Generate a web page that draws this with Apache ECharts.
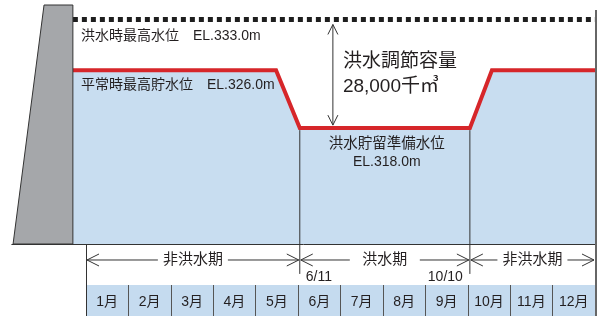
<!DOCTYPE html>
<html>
<head>
<meta charset="utf-8">
<script src="https://cdn.jsdelivr.net/npm/echarts@6/dist/echarts.min.js"></script>
<style>
  html, body { margin: 0; padding: 0; background: #fff; }
  #main { width: 603px; height: 316px; }
</style>
</head>
<body>
<div id="main"></div>
<script>
// x軸: 0 = 1月1日, 12 = 12月末（月単位）
var months = ['1月', '2月', '3月', '4月', '5月', '6月', '7月', '8月', '9月', '10月', '11月', '12月'];

// 水位 EL (m)
var floodMaxEL = 333;   // 洪水時最高水位
var normalMaxEL = 326;  // 平常時最高貯水位
var standbyEL = 318;    // 洪水貯留準備水位

// 年間の運用水位線
var waterX = [-0.31, 4.48, 5.04, 9.05, 9.57, 12];
var waterEL = [326, 326, 318, 318, 326, 326];

// ダム堤体の断面
var damX = [-1.72, -0.99, -0.31, -0.31];
var damEL = [302, 335, 335, 302];

// 期間
var periodNames = ['非洪水期', '洪水期', '非洪水期'];
var periodStart = [0, 5.04, 9.05];
var periodEnd = [5.04, 9.05, 12];
var switchDates = ['6/11', '10/10'];

var levelLabels = ['洪水時最高水位\u3000EL.333.0m', '平常時最高貯水位\u3000EL.326.0m'];
var standbyLabel = ['洪水貯留準備水位', 'EL.318.0m'];
var capacityLines = ['洪水調節容量', '28,000千㎥'];
var capacityX = 5.82;

var FONT = '"Liberation Sans", "Noto Sans CJK JP", sans-serif';
var TEXT = '#231f20';
var LINE = '#333';

function txt(x, y, s, size, align) {
  return {
    type: 'text', x: x, y: y,
    style: { text: s, fill: TEXT, fontSize: size, fontFamily: FONT, align: align || 'left', verticalAlign: 'middle' }
  };
}
function seg(x1, y1, x2, y2) {
  return { type: 'line', shape: { x1: x1, y1: y1, x2: x2, y2: y2 }, style: { stroke: LINE, lineWidth: 1 } };
}
function chevron(pts) {
  return { type: 'polyline', shape: { points: pts }, style: { stroke: LINE, lineWidth: 1, fill: null } };
}

var myChart = echarts.init(document.getElementById('main'));

var option = {
  animation: false,
  grid: [
    { left: 11.8, right: 8, top: 5, height: 239 },
    { left: 86, right: 8, top: 244, height: 41 },
    { left: 86, right: 8, top: 285, height: 31 }
  ],
  xAxis: [
    {
      gridIndex: 0, type: 'value', min: -1.75, max: 12,
      axisLine: { show: true, onZero: false, lineStyle: { color: LINE } },
      axisTick: { show: false }, axisLabel: { show: false }, splitLine: { show: false }
    },
    {
      gridIndex: 1, type: 'value', min: 0, max: 12, show: false
    },
    {
      gridIndex: 2, type: 'category', data: months, position: 'top',
      axisLine: { show: true, lineStyle: { color: LINE } },
      axisTick: { show: false },
      axisLabel: { inside: true, margin: 10, fontSize: 14, color: TEXT, fontFamily: FONT, interval: 0 },
      splitLine: { show: true, interval: 0, lineStyle: { color: '#555' } },
      splitArea: { show: true, interval: 0, areaStyle: { color: ['#c5dbef'] } }
    }
  ],
  yAxis: [
    { gridIndex: 0, type: 'value', min: 302, max: 335, show: false },
    {
      gridIndex: 1, type: 'value', min: 0, max: 1,
      axisLine: { show: true, lineStyle: { color: LINE } },
      axisTick: { show: false }, axisLabel: { show: false }, splitLine: { show: false }
    },
    {
      gridIndex: 2, type: 'value', min: 0, max: 1,
      axisLine: { show: true, lineStyle: { color: LINE } },
      axisTick: { show: false }, axisLabel: { show: false }, splitLine: { show: false }
    }
  ],
  series: [
    // 貯水池（水位線と水面）
    {
      type: 'line', xAxisIndex: 0, yAxisIndex: 0,
      data: waterX.map(function (x, i) { return [x, waterEL[i]]; }),
      symbol: 'none',
      lineStyle: { color: '#d6262a', width: 4, join: 'miter' },
      areaStyle: { color: '#c8ddf0', opacity: 1, origin: 'start' },
      z: 2
    },
    // 洪水時最高水位（点線）
    {
      type: 'line', xAxisIndex: 0, yAxisIndex: 0,
      data: [[waterX[0], floodMaxEL], [waterX[waterX.length - 1], floodMaxEL]],
      symbol: 'none',
      lineStyle: { color: '#1e1e1e', width: 5, type: [5, 4], cap: 'butt' },
      z: 3
    },
    // ダム堤体
    {
      type: 'custom', xAxisIndex: 0, yAxisIndex: 0,
      data: [[damX[0], damEL[0]]],
      renderItem: function (params, api) {
        var pts = damX.map(function (x, i) { return api.coord([x, damEL[i]]); });
        return { type: 'polygon', shape: { points: pts }, style: { fill: '#a5a7aa', stroke: LINE, lineWidth: 1 } };
      },
      z: 4
    },
    // 洪水期の区切り線（貯水池内）
    {
      type: 'custom', xAxisIndex: 0, yAxisIndex: 0,
      data: periodStart.slice(1).map(function (x) { return [x, standbyEL]; }),
      renderItem: function (params, api) {
        var a = api.coord([api.value(0), standbyEL]);
        var b = api.coord([api.value(0), 302]);
        return seg(a[0], a[1] + 2, b[0], b[1]);
      },
      z: 3
    },
    // 水位の注記
    {
      type: 'custom', xAxisIndex: 0, yAxisIndex: 0,
      data: [[waterX[0], floodMaxEL], [waterX[0], normalMaxEL]],
      renderItem: function (params, api) {
        var p = api.coord([api.value(0), api.value(1)]);
        var dy = params.dataIndex === 0 ? 17 : 15;
        return txt(p[0] + 8, p[1] + dy, levelLabels[params.dataIndex], 14);
      },
      z: 5
    },
    {
      type: 'custom', xAxisIndex: 0, yAxisIndex: 0,
      data: [[(periodStart[1] + periodEnd[1]) / 2, standbyEL]],
      renderItem: function (params, api) {
        var p = api.coord([api.value(0), api.value(1)]);
        return {
          type: 'group', children: [
            txt(p[0] + 2, p[1] + 16, standbyLabel[0], 14.5, 'center'),
            txt(p[0] + 2, p[1] + 34, standbyLabel[1], 14, 'center')
          ]
        };
      },
      z: 5
    },
    // 洪水調節容量
    {
      type: 'custom', xAxisIndex: 0, yAxisIndex: 0,
      data: [[capacityX, floodMaxEL]],
      renderItem: function (params, api) {
        var top = api.coord([capacityX, floodMaxEL]);
        var bot = api.coord([capacityX, standbyEL]);
        var x = top[0], y1 = top[1] + 5, y2 = bot[1] - 3;
        var mid = (top[1] + bot[1]) / 2;
        return {
          type: 'group', children: [
            seg(x, y1, x, y2),
            chevron([[x - 5, y1 + 10], [x, y1], [x + 5, y1 + 10]]),
            chevron([[x - 5, y2 - 10], [x, y2], [x + 5, y2 - 10]]),
            txt(x + 10, mid - 12, capacityLines[0], 19),
            txt(x + 10, mid + 13, capacityLines[1], 19)
          ]
        };
      },
      z: 5
    },
    // 期間の矢印
    {
      type: 'custom', xAxisIndex: 1, yAxisIndex: 1,
      data: periodStart.map(function (s, i) { return [s, periodEnd[i]]; }),
      renderItem: function (params, api) {
        var a = api.coord([api.value(0), 0.61]);
        var b = api.coord([api.value(1), 0.61]);
        var y = a[1], cx = (a[0] + b[0]) / 2, gap = 35;
        var x0 = a[0] + 1, x1 = b[0] - 1;
        return {
          type: 'group', children: [
            seg(x0, y, cx - gap, y),
            seg(cx + gap, y, x1, y),
            chevron([[x0 + 12, y - 6], [x0, y], [x0 + 12, y + 6]]),
            chevron([[x1 - 12, y - 6], [x1, y], [x1 - 12, y + 6]]),
            txt(cx, y, periodNames[params.dataIndex], 15, 'center')
          ]
        };
      },
      z: 5
    },
    // 切替日
    {
      type: 'custom', xAxisIndex: 1, yAxisIndex: 1,
      data: periodStart.slice(1).map(function (x) { return [x, 1]; }),
      renderItem: function (params, api) {
        var a = api.coord([api.value(0), 1]);
        var b = api.coord([api.value(0), 0.27]);
        var first = params.dataIndex === 0;
        var ty = api.coord([api.value(0), 0.61])[1] + 17;
        return {
          type: 'group', children: [
            seg(a[0], a[1], b[0], b[1]),
            txt(first ? a[0] + 6 : a[0] - 7, ty, switchDates[params.dataIndex], 14, first ? 'left' : 'right')
          ]
        };
      },
      z: 6
    }
  ],
  graphic: [
    { type: 'line', shape: { x1: 596, y1: 10, x2: 596, y2: 316 }, style: { stroke: '#666', lineWidth: 2 }, z: 10 }
  ]
};

myChart.setOption(option);
</script>
</body>
</html>
